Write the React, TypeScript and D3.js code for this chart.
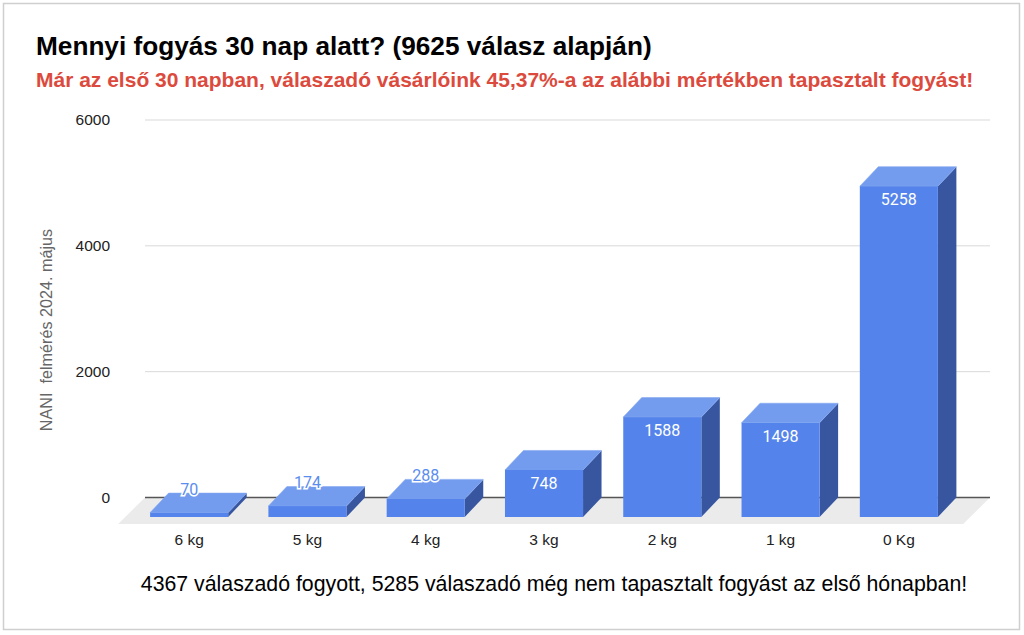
import React from "react";
import { scaleBand, scaleLinear } from "d3";

const categories = ["6 kg", "5 kg", "4 kg", "3 kg", "2 kg", "1 kg", "0 Kg"];
const values = [70, 174, 288, 748, 1588, 1498, 5258];
const yTicks = [0, 2000, 4000, 6000];

const title = "Mennyi fogyás 30 nap alatt? (9625 válasz alapján)";
const subtitle =
  "Már az első 30 napban, válaszadó vásárlóink 45,37%-a az alábbi mértékben tapasztalt fogyást!";
const yTitle = "NANI  felmérés 2024. május";
const footer =
  "4367 válaszadó fogyott, 5285 válaszadó még nem tapasztalt fogyást az első hónapban!";

const W = 1024;
const H = 635;
// 3D depth offset between front and back plane
const DX = 18.5;
const DY = 19.5;

const FRONT = "#5484eb";
const TOP = "#739cee";
const SIDE = "#37569f";
const font = "'Liberation Sans', Arial, sans-serif";

const App: React.FC = () => {
  // back plane (where gridlines live)
  const yBack = scaleLinear().domain([0, 6000]).range([497.5, 120]);
  const yFront = (v: number) => yBack(v) + DY;
  const x = scaleBand<string>()
    .domain(categories)
    .range([130, 958])
    .paddingInner(0.34)
    .paddingOuter(0.17);

  const gx0 = 145;
  const gx1 = 990;
  const floorDx = DX * 1.45;
  const floorDy = DY * 1.36;
  const y0 = yBack(0);

  return (
    <div style={{ position: "absolute", left: 0, top: 0 }}>
      <svg width={W} height={H} style={{ display: "block", background: "#fff" }}>
        <rect x={3.5} y={3.5} width={1016} height={626} fill="#fff" stroke="#cfcfcf" strokeWidth={1.5} />

        <text x={36} y={55} fontFamily={font} fontWeight="bold" fontSize={26.2} fill="#000">
          {title}
        </text>
        <text x={36} y={86.5} fontFamily={font} fontWeight="bold" fontSize={21} fill="#dc4a3e">
          {subtitle}
        </text>

        {/* floor */}
        <polygon
          points={`${gx0},${y0} ${gx1},${y0} ${gx1 - floorDx},${y0 + floorDy} ${gx0 - floorDx},${y0 + floorDy}`}
          fill="#ebebeb"
        />

        {/* gridlines */}
        {yTicks.map((t) => (
          <g key={t}>
            <line
              x1={gx0}
              x2={gx1}
              y1={yBack(t)}
              y2={yBack(t)}
              stroke={t === 0 ? "#555" : "#d9d9d9"}
              strokeWidth={t === 0 ? 1.5 : 1}
            />
            <text
              x={110}
              y={yBack(t)}
              dy="0.35em"
              textAnchor="end"
              fontFamily={font}
              fontSize={15.5}
              fill="#222"
            >
              {t}
            </text>
          </g>
        ))}

        <text
          transform="translate(52,330) rotate(-90)"
          textAnchor="middle"
          fontFamily={font}
          fontSize={16.2}
          fill="#666"
          style={{ whiteSpace: "pre" }}
        >
          {yTitle}
        </text>

        {/* bars */}
        {categories.map((c, i) => {
          const v = values[i];
          const x0 = x(c) as number;
          const x1 = x0 + x.bandwidth();
          const yt = yFront(v);
          const yb = yFront(0);
          return (
            <g key={c}>
              <polygon
                points={`${x1},${yt} ${x1 + DX},${yt - DY} ${x1 + DX},${yb - DY} ${x1},${yb}`}
                fill={SIDE}
              />
              <polygon
                points={`${x0},${yt} ${x0 + DX},${yt - DY} ${x1 + DX},${yt - DY} ${x1},${yt}`}
                fill={TOP}
                stroke="#84a8f2"
                strokeWidth={0.6}
              />
              <rect x={x0} y={yt} width={x1 - x0} height={yb - yt} fill={FRONT} />
            </g>
          );
        })}

        {/* value labels */}
        {categories.map((c, i) => {
          const v = values[i];
          const cx = (x(c) as number) + x.bandwidth() / 2;
          const yt = yFront(v);
          const inside = yFront(0) - yt > 30;
          return (
            <text
              key={c}
              x={cx}
              y={inside ? yt + 13.5 : yt - 23.5}
              dy="0.36em"
              textAnchor="middle"
              fontFamily="Roboto, sans-serif"
              fontSize={16}
              fill={inside ? "#fff" : "#5b8def"}
              stroke={inside ? "none" : "#fff"}
              strokeWidth={inside ? 0 : 3}
              paintOrder="stroke"
            >
              {v}
            </text>
          );
        })}

        {/* category labels */}
        {categories.map((c) => (
          <text
            key={c}
            x={(x(c) as number) + x.bandwidth() / 2}
            y={540}
            dy="0.35em"
            textAnchor="middle"
            fontFamily={font}
            fontSize={15.5}
            fill="#222"
          >
            {c}
          </text>
        ))}

        <text x={554} y={591} textAnchor="middle" fontFamily={font} fontSize={21.3} fill="#000">
          {footer}
        </text>
      </svg>
    </div>
  );
};

export default App;
